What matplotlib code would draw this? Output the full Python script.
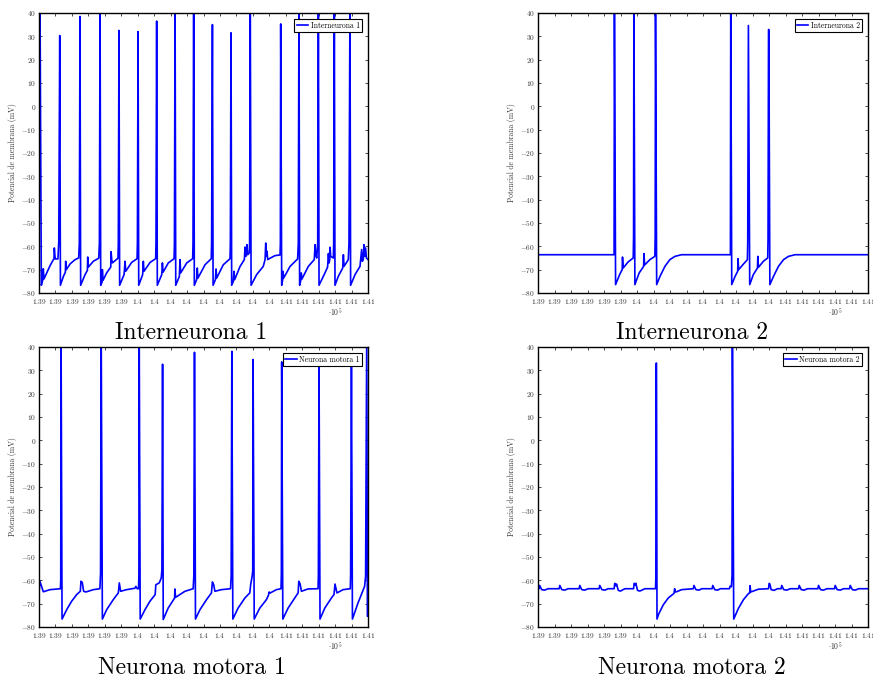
import matplotlib
matplotlib.use('Agg')
import matplotlib.pyplot as plt

plt.rcParams.update({
    'font.family': 'serif',
    'font.serif': ['cmr10'],
    'mathtext.fontset': 'cm',
    'axes.unicode_minus': False,
})

# ---------------- data (time in ms, membrane potential in mV) ----------------
inter1 = [
    (139000, -57.9), (139004, 45), (139006, 45), (139014, -76.7), (139022, -74.6), (139026, -69.6),
    (139030, -74.0), (139047, -71.4), (139067, -68.3), (139087, -65.7), (139091, -65.4), (139093, -60.7),
    (139097, -64.3), (139099, -65.4), (139115, -65.4), (139120, -57.9), (139126, 30.3), (139130, -76.7),
    (139148, -72.9), (139160, -71.1), (139162, -66.4), (139166, -70.0), (139188, -67.6), (139219, -65.7),
    (139241, -65.0), (139245, -58.6), (139249, 38.5), (139253, -76.7),
    (139280, -72.1), (139294, -70.3), (139296, -64.6), (139300, -68.9), (139330, -66.4), (139363, -65.1),
    (139367, -58.6), (139371, 45), (139375, -76.7),
    (139383, -75.4), (139385, -70.0), (139389, -74.6), (139411, -71.4), (139436, -68.9), (139438, -62.3),
    (139442, -65.7), (139446, -67.1), (139480, -65.1), (139482, -58.6), (139486, 32.5), (139490, -76.7),
    (139517, -72.1), (139523, -66.4), (139527, -70.7), (139563, -66.9), (139596, -65.3), (139598, -58.6),
    (139602, 32.0), (139606, -76.7),
    (139630, -72.1), (139634, -66.4), (139638, -70.7), (139675, -66.9), (139709, -65.3), (139711, -58.6),
    (139715, 36.5), (139719, -76.7),
    (139746, -72.1), (139750, -67.1), (139754, -71.1), (139786, -67.1), (139821, -65.3), (139823, -58.6),
    (139827, 45), (139831, -76.7),
    (139853, -72.9), (139857, -65.7), (139861, -71.4), (139898, -67.1), (139934, -65.3), (139936, -58.6),
    (139940, 45), (139944, -76.7),
    (139958, -74.3), (139962, -69.3), (139966, -73.6), (140009, -67.9), (140047, -65.3), (140049, -58.6),
    (140054, 35.0), (140058, -76.7),
    (140072, -74.3), (140076, -69.7), (140080, -73.6), (140120, -67.9), (140161, -65.3), (140163, -58.6),
    (140167, 31.5), (140171, -76.7),
    (140181, -75.0), (140185, -70.7), (140189, -74.3), (140222, -68.6), (140248, -65.7), (140252, -60.3),
    (140258, -64.3), (140264, -59.3), (140268, -63.6), (140278, -62.9), (140280, -58.6), (140284, 45),
    (140289, -76.7),
    (140323, -72.1), (140363, -68.6), (140374, -65.7), (140378, -58.6), (140382, -64.3), (140386, -62.1),
    (140390, -65.7), (140404, -65.1), (140434, -64.0), (140465, -63.7), (140467, -58.6), (140469, 35.3),
    (140475, -76.7),
    (140481, -74.3), (140483, -70.7), (140487, -73.6), (140526, -68.6), (140572, -65.4), (140576, -58.6),
    (140580, 45), (140584, -76.7),
    (140592, -74.3), (140594, -71.4), (140598, -74.0), (140637, -68.6), (140673, -65.7), (140678, -59.3),
    (140682, -63.6), (140688, -65.0), (140694, -58.6), (140698, 45), (140702, -76.7),
    (140738, -71.4), (140754, -68.9), (140759, -63.1), (140763, -67.1), (140767, -65.7), (140769, -60.4),
    (140773, -64.3), (140789, -65.0), (140791, -58.6), (140795, 39.5), (140799, -76.7),
    (140819, -72.9), (140846, -69.3), (140850, -63.6), (140854, -68.6), (140880, -65.7), (140884, -58.6),
    (140890, 45), (140894, -76.7),
    (140921, -72.1), (140951, -68.6), (140961, -61.4), (140965, -66.4), (140971, -65.7), (140975, -59.3),
    (140979, -64.3), (140985, -60.7), (140990, -65.0), (141000, -65.7),
]

inter2 = [
    (139000, -63.6), (139461, -63.6), (139463, 45), (139470, -76.4), (139496, -71.9), (139510, -70.0),
    (139512, -64.6), (139516, -69.3), (139546, -66.7), (139577, -65.0), (139579, -55.7), (139581, 45),
    (139587, -76.4), (139613, -71.4), (139640, -68.6), (139642, -63.1), (139646, -68.0), (139678, -65.7),
    (139708, -64.3), (139710, -56.0), (139712, 45), (139719, -76.4), (139739, -72.9), (139769, -68.6),
    (139799, -65.7), (139830, -64.3), (139870, -63.6), (140166, -63.6), (140168, 45), (140174, -76.4),
    (140194, -72.9), (140210, -70.7), (140212, -65.3), (140216, -70.0), (140245, -67.6), (140269, -65.7),
    (140271, -58.0), (140275, 34.6), (140283, -76.4), (140305, -72.1), (140330, -69.3), (140332, -64.3),
    (140336, -69.0), (140366, -66.4), (140392, -65.0), (140394, -57.0), (140397, 32.9), (140399, 32.9),
    (140405, -76.4), (140427, -72.9), (140457, -68.6), (140488, -65.7), (140518, -64.3), (140558, -63.6),
    (141000, -63.6),
]

motor1 = [
    (139000, -65.4), (139005, -60.3), (139015, -62.5), (139026, -64.9), (139067, -64.0), (139130, -63.6),
    (139132, -60.0), (139134, 45), (139140, -76.6), (139168, -72.6), (139198, -69.0), (139229, -66.1),
    (139251, -64.7), (139255, -60.4), (139263, -60.9), (139271, -64.7), (139285, -65.0), (139330, -64.0),
    (139370, -63.6), (139374, -56.9), (139378, 45), (139385, -76.6), (139411, -72.6), (139451, -68.3),
    (139482, -65.4), (139488, -61.1), (139496, -64.7), (139532, -64.0), (139583, -63.4), (139589, -62.6),
    (139597, -63.6), (139605, -63.6), (139607, -58.0), (139609, 45), (139615, -76.6), (139644, -72.6),
    (139674, -69.0), (139706, -66.1), (139710, -61.9), (139731, -61.1), (139743, -59.0), (139747, -55.4),
    (139751, 32.6), (139755, -76.8), (139785, -71.9), (139824, -67.6), (139826, -63.7), (139830, -67.3),
    (139887, -64.7), (139937, -63.6), (139941, -58.0), (139945, 37.7), (139951, -76.6), (139978, -72.6),
    (140018, -68.3), (140048, -65.4), (140054, -60.7), (140062, -62.0), (140069, -64.7), (140109, -64.0),
    (140164, -63.6), (140168, -58.0), (140172, 38.1), (140178, -76.6), (140210, -71.9), (140251, -67.6),
    (140281, -65.4), (140287, -61.6), (140295, -58.5), (140299, -56.0), (140301, 34.6), (140308, -76.6),
    (140342, -71.9), (140382, -68.3), (140394, -66.5), (140399, -65.0), (140403, -65.5), (140443, -64.0),
    (140471, -63.6), (140473, -57.0), (140475, 33.6), (140482, -76.6), (140514, -71.9), (140554, -67.6),
    (140575, -65.4), (140579, -60.4), (140587, -61.5), (140595, -64.7), (140635, -63.7), (140696, -63.6),
    (140698, -58.0), (140702, 31.4), (140708, -76.6), (140737, -71.9), (140777, -67.6), (140793, -66.1),
    (140799, -61.6), (140811, -65.4), (140848, -64.0), (140892, -63.6), (140894, -58.0), (140899, 33.1),
    (140905, -76.6), (140939, -69.7), (140979, -62.6), (140985, -58.3), (140992, 45), (140996, -75.4),
    (141000, -75.4),
]

motor2 = [
    (139000, -63.8), (139006, -63.6), (139010, -62.2), (139022, -64.0), (139040, -64.2), (139061, -63.6),
    (139128, -63.6), (139132, -62.2), (139144, -64.0), (139162, -64.2), (139182, -63.6),
    (139249, -63.6), (139253, -62.2), (139265, -64.0), (139283, -64.2), (139304, -63.6),
    (139370, -63.6), (139374, -62.2), (139387, -64.0), (139405, -64.2), (139425, -63.6),
    (139461, -63.6), (139465, -61.3), (139471, -62.3), (139476, -61.6), (139486, -64.3), (139500, -64.6),
    (139526, -63.6),
    (139579, -63.6), (139583, -61.3), (139589, -62.0), (139593, -61.3), (139603, -64.3), (139617, -64.6),
    (139648, -63.6),
    (139712, -63.6), (139714, -59.0), (139716, 33.1), (139718, 33.1), (139721, -76.6), (139731, -74.5),
    (139759, -70.5), (139789, -67.6), (139824, -65.6), (139828, -63.6), (139832, -65.0), (139840, -64.9),
    (139870, -64.0), (139941, -63.6), (139945, -62.2), (139957, -64.0), (139976, -64.2), (139992, -63.6),
    (140055, -63.6), (140059, -62.2), (140071, -64.0), (140089, -64.2), (140105, -63.6),
    (140160, -63.6), (140164, -62.5), (140172, -62.8), (140176, -58.0), (140178, 45), (140186, -76.6),
    (140214, -72.1), (140245, -68.3), (140275, -65.7), (140283, -65.4), (140285, -62.3), (140289, -65.0),
    (140305, -64.6), (140336, -63.8), (140397, -63.6), (140401, -61.3), (140405, -61.6), (140413, -64.0),
    (140431, -64.3), (140451, -63.6),
    (140473, -63.6), (140477, -62.2), (140489, -64.0), (140508, -64.2), (140528, -63.6),
    (140579, -63.6), (140583, -62.2), (140595, -64.0), (140613, -64.2), (140633, -63.6),
    (140696, -63.6), (140700, -62.2), (140712, -64.0), (140730, -64.2), (140751, -63.6),
    (140797, -63.6), (140801, -62.2), (140813, -64.0), (140832, -64.2), (140852, -63.6),
    (140888, -63.6), (140892, -62.2), (140905, -64.0), (140923, -64.2), (140943, -63.6),
    (141000, -63.6),
]

legend_names = ['Interneurona 1', 'Interneurona 2', 'Neurona motora 1', 'Neurona motora 2']
captions = ['Interneurona 1', 'Interneurona 2', 'Neurona motora 1', 'Neurona motora 2']

x_tick_values = [139000, 139100, 139200, 139300, 139400, 139500, 139600, 139700, 139800, 139900, 140000,
                 140100, 140200, 140300, 140400, 140500, 140600, 140700, 140800, 140900, 141000]
x_tick_labels = ['1.39', '1.39', '1.39', '1.39', '1.39', '1.39', '1.4', '1.4', '1.4', '1.4', '1.4',
                 '1.4', '1.4', '1.4', '1.4', '1.41', '1.41', '1.41', '1.41', '1.41', '1.41']
y_tick_values = [-80, -70, -60, -50, -40, -30, -20, -10, 0, 10, 20, 30, 40]
y_label = 'Potencial de membrana (mV)'
x_offset_label = r'$\cdot 10^{5}$'

# ---------------- layout ----------------
fig = plt.figure(figsize=(8.73, 6.79), dpi=100)
positions = [
    [0.0447, 0.5685, 0.3769, 0.4124],
    [0.6163, 0.5685, 0.3780, 0.4124],
    [0.0447, 0.0766, 0.3769, 0.4124],
    [0.6163, 0.0766, 0.3780, 0.4124],
]
caption_pos = [(191 / 873, 1 - 333 / 679), (692 / 873, 1 - 333 / 679),
               (192 / 873, 1 - 668 / 679), (692 / 873, 1 - 668 / 679)]
traces = [inter1, inter2, motor1, motor2]

for trace, pos, name, cap, cpos in zip(traces, positions, legend_names, captions, caption_pos):
    ax = fig.add_axes(pos)
    t = [p[0] for p in trace]
    v = [p[1] for p in trace]
    ax.plot(t, v, color='#0000ff', lw=1.2, label=name)
    ax.set_xlim(139000, 141000)
    ax.set_ylim(-80, 40)
    ax.set_xticks(x_tick_values)
    ax.set_xticklabels(['$%s$' % s for s in x_tick_labels])
    ax.set_yticks(y_tick_values)
    ax.set_yticklabels(['$%d$' % y for y in y_tick_values])
    ax.tick_params(direction='in', top=True, right=True, length=2.5, width=0.5,
                   labelsize=5.3, labelcolor='#333333')
    ax.tick_params(axis='x', pad=3)
    ax.tick_params(axis='y', pad=2)
    for s in ax.spines.values():
        s.set_linewidth(1.0)
    ax.set_ylabel(y_label, fontsize=5.5, labelpad=3, color='#333333')
    ax.text(0.90, -0.07, x_offset_label, transform=ax.transAxes, fontsize=5.5,
            ha='center', va='center', color='#333333')
    leg = ax.legend(loc='upper right', fontsize=5.5, frameon=True, fancybox=False,
                    framealpha=1, edgecolor='black', handlelength=1.5, handletextpad=0.3,
                    borderpad=0.3, borderaxespad=0.8)
    leg.get_frame().set_linewidth(0.8)
    fig.text(cpos[0], cpos[1], cap, fontsize=17, ha='center', va='center')

fig.savefig('out.png', dpi=100)
